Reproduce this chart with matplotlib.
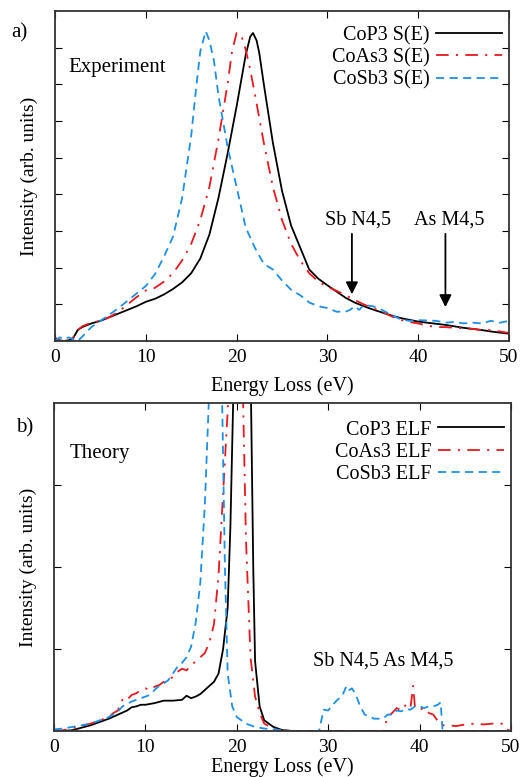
import numpy as np
import matplotlib.pyplot as plt

plt.rcParams['font.family'] = ['Liberation Serif', 'DejaVu Serif']

# ---- (a) Experiment: S(E) ----
e_cop3 = [0, 0.5, 1, 1.5, 2, 2.5, 3, 4, 5, 6, 7, 8, 9, 10, 11, 12, 13, 14, 15, 16, 17, 18, 19, 20,
          20.5, 21, 21.5, 21.8, 22.2, 22.5, 23, 23.5, 24, 25, 26, 27, 28, 29, 30, 31, 32, 33, 34, 35,
          36, 37, 38, 39, 40, 41, 42, 43, 44, 45, 46, 47, 48, 49, 50]
s_cop3 = [0.05, 0.02, 0.0, 0.02, 0.08, 0.3, 0.38, 0.48, 0.55, 0.65, 0.75, 0.85, 0.95, 1.07, 1.15,
          1.27, 1.42, 1.6, 1.85, 2.25, 2.9, 3.9, 5.1, 6.4, 7.1, 7.8, 8.3, 8.4, 8.2, 7.85, 7.0, 6.2,
          5.4, 4.1, 3.15, 2.55, 1.95, 1.7, 1.52, 1.35, 1.18, 1.05, 0.95, 0.86, 0.78, 0.7, 0.63,
          0.58, 0.53, 0.5, 0.47, 0.44, 0.4, 0.36, 0.33, 0.3, 0.26, 0.23, 0.2]

e_coas3 = [0, 0.5, 1, 1.5, 2, 2.5, 3, 4, 5, 6, 7, 8, 9, 10, 11, 12, 13, 14, 15, 16, 17, 18, 19,
           19.5, 20, 20.5, 21, 21.5, 22, 23, 24, 25, 26, 27, 28, 29, 30, 31, 32, 33, 34, 35, 36,
           37, 38, 39, 40, 41, 42, 43, 44, 45, 46, 47, 48, 49, 50]
s_coas3 = [0.1, 0.0, 0.0, 0.02, 0.1, 0.3, 0.4, 0.5, 0.55, 0.65, 0.8, 1.0, 1.2, 1.38, 1.45, 1.62,
           1.85, 2.2, 2.65, 3.3, 4.2, 5.5, 7.0, 7.9, 8.4, 8.35, 7.95, 7.4, 6.75, 5.4, 4.2, 3.3,
           2.65, 2.2, 1.85, 1.62, 1.48, 1.37, 1.25, 1.12, 1.0, 0.9, 0.8, 0.68, 0.58, 0.52, 0.48,
           0.42, 0.38, 0.38, 0.36, 0.35, 0.33, 0.3, 0.3, 0.26, 0.22]

e_cosb3 = [0, 0.5, 1, 1.5, 2, 2.5, 3, 3.5, 4, 5, 6, 7, 8, 9, 10, 11, 12, 13, 14, 15, 15.5, 16,
           16.6, 17, 17.5, 18, 19, 20, 21, 22, 23, 24, 25, 26, 27, 28, 29, 30, 31, 32, 32.5, 33,
           33.5, 34, 35, 36, 37, 38, 39, 40, 41, 42, 43, 44, 45, 46, 47, 48, 49, 50]
s_cosb3 = [0.0, 0.1, 0.05, 0.1, 0.05, 0.0, 0.12, 0.25, 0.38, 0.55, 0.72, 0.9, 1.1, 1.3, 1.5,
           1.82, 2.3, 2.85, 3.9, 5.6, 6.8, 7.9, 8.45, 8.2, 7.65, 6.7, 5.3, 4.2, 3.1, 2.55, 2.1,
           1.95, 1.65, 1.4, 1.25, 1.05, 0.95, 0.9, 0.8, 0.8, 0.85, 0.95, 0.85, 0.98, 0.95, 0.85,
           0.72, 0.6, 0.55, 0.57, 0.56, 0.55, 0.5, 0.52, 0.48, 0.5, 0.48, 0.55, 0.5, 0.55]

# ---- (b) Theory: ELF ----
t_cop3 = [0, 1, 2, 3, 4, 5, 6, 7, 8, 8.5, 9, 9.5, 10, 11, 12, 13, 14, 14.5, 15, 15.5, 16, 16.5,
          17, 17.5, 18, 18.5, 19, 19.3, 19.5, 19.7, 20, 20.5, 21, 21.5, 21.8, 22, 22.5, 23, 24,
          25, 26, 50]
elf_cop3 = [0, 0, 0.01, 0.04, 0.07, 0.11, 0.15, 0.2, 0.25, 0.29, 0.3, 0.32, 0.32, 0.34, 0.37,
            0.37, 0.38, 0.43, 0.4, 0.42, 0.45, 0.5, 0.55, 0.6, 0.7, 1.0, 1.5, 2.5, 3.5, 4.5, 8,
            10, 9, 4.5, 2.0, 0.85, 0.3, 0.13, 0.05, 0.01, 0, 0]

t_coas3 = [0, 1, 2, 3, 4, 5, 6, 6.5, 7, 7.3, 7.6, 8, 8.5, 9, 9.5, 10, 10.5, 11, 11.5, 12, 12.5,
           13, 13.5, 14, 14.5, 15, 15.5, 16, 16.5, 17, 17.5, 18, 18.5, 19, 19.5, 20, 20.3, 20.6,
           21, 21.5, 22, 22.5, 23, 24, 25, 26, 36, 36.3, 36.6, 37, 37.5, 38, 38.5, 39, 39.3,
           39.5, 40, 40.5, 41, 41.5, 42, 42.5, 43, 44, 45, 46, 47, 48, 49, 49.5, 50]
elf_coas3 = [0, 0.01, 0.03, 0.06, 0.09, 0.13, 0.17, 0.22, 0.25, 0.35, 0.4, 0.38, 0.44, 0.46,
             0.5, 0.52, 0.5, 0.54, 0.56, 0.6, 0.62, 0.66, 0.72, 0.76, 0.74, 0.8, 0.85, 0.9, 0.95,
             1.08, 1.3, 1.9, 2.9, 3.9, 6, 8, 7, 4.5, 2.35, 0.9, 0.42, 0.22, 0.09, 0.03, 0.01, 0,
             0, 0.1, 0.18, 0.22, 0.28, 0.25, 0.32, 0.28, 0.55, 0.28, 0.26, 0.28, 0.22, 0.2, 0.12,
             0.07, 0.07, 0.06, 0.08, 0.09, 0.08, 0.09, 0.09, 0.02, 0]

t_cosb3 = [0, 1, 2, 3, 4, 5, 6, 7, 7.5, 8, 8.5, 9, 9.5, 10, 10.5, 11, 11.5, 12, 12.5, 13, 13.5,
           14, 14.5, 15, 15.5, 16, 16.5, 17, 17.5, 18, 18.4, 18.7, 19, 19.5, 20, 21, 22, 23, 25,
           26, 29, 29.5, 30, 30.5, 31, 31.5, 32, 32.3, 32.6, 33, 33.5, 34, 34.5, 35, 36, 36.5,
           37, 37.5, 38, 38.5, 39, 39.5, 40, 40.5, 41, 41.5, 42, 42.3, 42.5, 43, 50]
elf_cosb3 = [0.02, 0.03, 0.05, 0.07, 0.09, 0.13, 0.17, 0.24, 0.3, 0.33, 0.36, 0.38, 0.4, 0.42,
             0.44, 0.5, 0.55, 0.58, 0.62, 0.7, 0.78, 0.83, 0.9, 1.03, 1.32, 1.8, 2.75, 4.2, 7, 6,
             4, 2.0, 0.7, 0.3, 0.17, 0.09, 0.05, 0.03, 0.01, 0, 0, 0.26, 0.25, 0.32, 0.38, 0.42,
             0.55, 0.5, 0.52, 0.45, 0.3, 0.2, 0.18, 0.15, 0.15, 0.2, 0.2, 0.25, 0.24, 0.27, 0.26,
             0.3, 0.3, 0.28, 0.3, 0.3, 0.32, 0.35, 0.03, 0, 0]

RED = "#e8191e"
BLUE = "#1e8fe6"
dashdot = (7, 4, 1.2, 4)
dashed = (4.5, 3)

fig = plt.figure(figsize=(5.27, 7.77), dpi=100)
ax1 = fig.add_axes([0.1044, 0.5611, 0.8614, 0.4247])
ax2 = fig.add_axes([0.1025, 0.0592, 0.8671, 0.4221])


def style_axes(ax, ymax, yticks, xpad):
    ax.set_xlim(0, 50)
    ax.set_ylim(0, ymax)
    ax.set_xticks([0, 10, 20, 30, 40, 50])
    ax.set_yticks(yticks)
    ax.set_yticklabels([])
    ax.tick_params(direction="in", top=True, right=True, length=5, width=0.8,
                   labelsize=14, pad=6)
    for s in ax.spines.values():
        s.set_linewidth(1.3)
        s.set_color("#333333")
    ax.set_xlabel("Energy Loss (eV)", fontsize=14.5, labelpad=xpad)
    ax.set_ylabel("Intensity (arb. units)", fontsize=14, labelpad=6)


def add_legend(ax, y):
    ax.legend(loc="upper right", bbox_to_anchor=(0.985, y), frameon=False, markerfirst=False,
              fontsize=14.5, handlelength=3.3, handletextpad=0.3, labelspacing=0.15,
              borderaxespad=0, borderpad=0)


# panel a
ax1.plot(e_cop3, s_cop3, color="black", lw=1.3, label="CoP3 S(E)")
ax1.plot(e_coas3, s_coas3, color=RED, lw=1.3, dashes=dashdot, label="CoAs3 S(E)")
ax1.plot(e_cosb3, s_cosb3, color=BLUE, lw=1.3, dashes=dashed, label="CoSb3 S(E)")
style_axes(ax1, 9, [1, 2, 3, 4, 5, 6, 7, 8], 7)
ax1.text(1.5, 7.45, "Experiment", fontsize=15, va="center")
ax1.annotate("", xy=(32.7, 1.2), xytext=(32.7, 3.0),
             arrowprops=dict(arrowstyle="-|>", color="black", lw=1.3, mutation_scale=18))
ax1.annotate("", xy=(43.0, 0.85), xytext=(43.0, 3.0),
             arrowprops=dict(arrowstyle="-|>", color="black", lw=1.3, mutation_scale=18))
ax1.text(33.4, 3.3, "Sb N4,5", fontsize=14.5, ha="center", va="center")
ax1.text(43.4, 3.3, "As M4,5", fontsize=14.5, ha="center", va="center")
add_legend(ax1, 0.955)

# panel b
ax2.plot(t_cop3, elf_cop3, color="black", lw=1.3, label="CoP3 ELF")
ax2.plot(t_coas3, elf_coas3, color=RED, lw=1.3, dashes=dashdot, label="CoAs3 ELF")
ax2.plot(t_cosb3, elf_cosb3, color=BLUE, lw=1.3, dashes=dashed, label="CoSb3 ELF")
style_axes(ax2, 4, [1, 2, 3], 1)
ax2.text(1.75, 3.38, "Theory", fontsize=15, va="center")
ax2.text(31.9, 0.85, "Sb N4,5", fontsize=14.5, ha="center", va="center")
ax2.text(39.8, 0.85, "As M4,5", fontsize=14.5, ha="center", va="center")
add_legend(ax2, 0.947)

fig.text(0.022, 0.9575, "a)", fontsize=15, va="center")
fig.text(0.03, 0.449, "b)", fontsize=15, va="center")

fig.savefig("out.png", dpi=100)
